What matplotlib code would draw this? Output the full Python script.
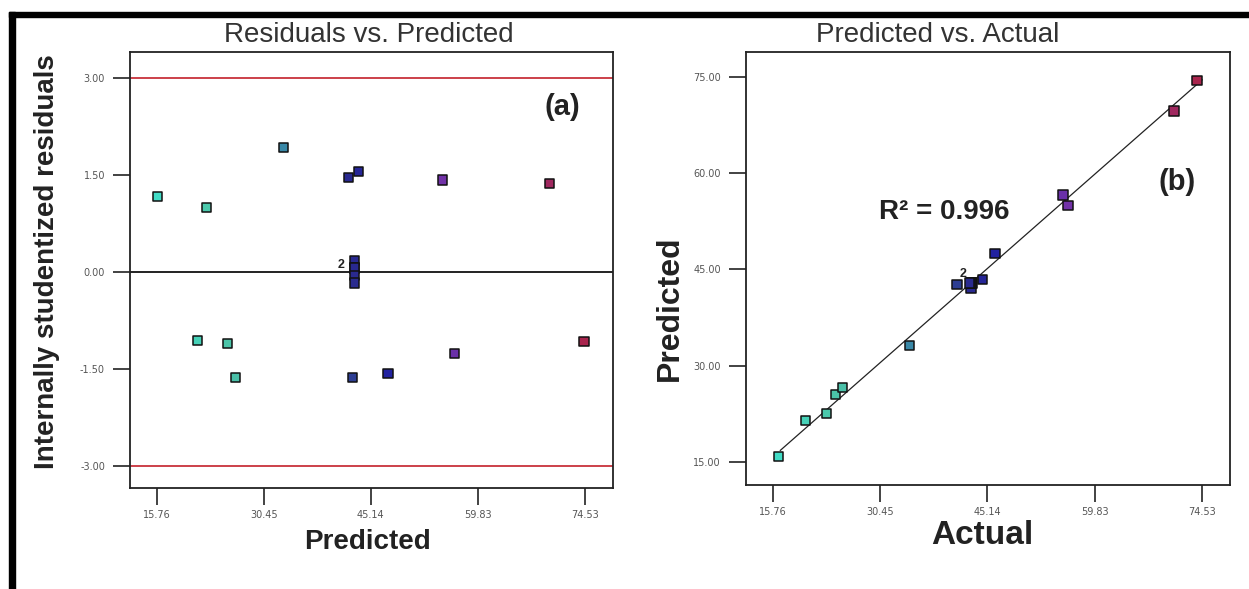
import matplotlib
matplotlib.use("Agg")
import matplotlib.pyplot as plt
from matplotlib.colors import LinearSegmentedColormap, Normalize
from matplotlib.patches import Rectangle

plt.rcParams['font.family'] = ['Liberation Sans', 'DejaVu Sans']

# model diagnostics, one entry per run
predicted = [15.9, 22.55, 33.2, 42.05, 43.4, 55.0, 69.7,
             42.9, 42.9, 42.9, 42.9, 42.9,
             21.4, 25.5, 26.55, 42.6, 47.5, 56.6, 74.4]
actual = [16.6, 23.1, 34.5, 42.9, 44.5, 56.2, 70.7,
          43.1, 42.95, 42.95, 42.8, 42.65,
          20.3, 24.4, 25.3, 41.0, 46.2, 55.5, 73.85]
residuals = [1.17, 1.00, 1.92, 1.46, 1.55, 1.42, 1.37,
             0.18, 0.06, 0.06, -0.06, -0.17,
             -1.06, -1.11, -1.63, -1.63, -1.57, -1.26, -1.08]
dup_run = 8          # run that sits on top of another one ("2")
r_squared = 0.996

x_ticks = [15.76, 30.45, 45.14, 59.83, 74.53]
resid_ticks = [-3.00, -1.50, 0.00, 1.50, 3.00]
pred_ticks = [15.00, 30.00, 45.00, 60.00, 75.00]
limit = 3.00

# colour scale low -> high response
cmap = LinearSegmentedColormap.from_list("resp", [
    (0.00, "#3fe0cc"), (0.15, "#4cc6a8"), (0.32, "#3a8ca8"),
    (0.46, "#2a2a8e"), (0.55, "#1e1ea8"), (0.70, "#7a34a8"),
    (1.00, "#ac2448")])
norm = Normalize(15, 75)
colors = [cmap(norm(v)) for v in actual]

W, H = 1249, 589
fig = plt.figure(figsize=(W / 100, H / 100), dpi=100)

# border strips
fig.patches.append(Rectangle((9 / W, 0), 6 / W, 1 - 12 / H, transform=fig.transFigure,
                             color="black", zorder=5))
fig.patches.append(Rectangle((9 / W, 1 - 17 / H), 1, 5 / H, transform=fig.transFigure,
                             color="black", zorder=5))

ax1 = fig.add_axes([130 / W, 1 - 488 / H, 483 / W, 436 / H])
ax2 = fig.add_axes([746 / W, 1 - 485 / H, 484 / W, 433 / H])


def style(ax, yticks):
    for s in ax.spines.values():
        s.set_color("#222222")
        s.set_linewidth(1.3)
    ax.set_xticks(x_ticks)
    ax.set_xticklabels(["%.2f" % t for t in x_ticks], family="DejaVu Sans")
    ax.set_yticks(yticks)
    ax.set_yticklabels(["%.2f" % t for t in yticks], family="DejaVu Sans")
    ax.tick_params(direction="out", length=12, width=1.2, color="#222222",
                   labelsize=7, labelcolor="#555555", pad=6)
    ax.tick_params(axis="x", pad=4)
    ax.set_xlim(12.1, 78.37)


# (a) residuals vs predicted
ax1.axhline(limit, color="#c8323c", lw=1.3, zorder=1)
ax1.axhline(-limit, color="#c8323c", lw=1.3, zorder=1)
ax1.axhline(0, color="#111111", lw=1.3, zorder=1)
ax1.scatter(predicted, residuals, marker="s", s=44, c=colors,
            edgecolors="#111111", linewidths=1.1, zorder=3)
ax1.annotate("2", (predicted[dup_run], residuals[dup_run]), xytext=(-13, 3),
             textcoords="offset pixels", fontsize=9, fontweight="bold",
             color="#222222", ha="center", va="center")
style(ax1, resid_ticks)
ax1.set_ylim(-3.34, 3.40)
ax1.text(0.896, 0.874, "(a)", transform=ax1.transAxes, fontsize=21,
         fontweight="bold", color="#222222", ha="center", va="center")
fig.text(369 / W, 1 - 35 / H, "Residuals vs. Predicted", fontsize=20,
         color="#333333", ha="center", va="center")
fig.text(47 / W, 1 - 262 / H, "Internally studentized residuals", fontsize=20,
         fontweight="bold", rotation=90, color="#222222", ha="center", va="center")
fig.text(368 / W, 1 - 542 / H, "Predicted", fontsize=20, fontweight="bold",
         color="#222222", ha="center", va="center")

# (b) predicted vs actual with the 1:1 line
ax2.plot([min(actual) + 0.2, max(actual) + 0.7], [min(actual) + 0.2, max(actual) + 0.7],
         color="#222222", lw=0.9, zorder=2)
ax2.scatter(actual, predicted, marker="s", s=44, c=colors,
            edgecolors="#111111", linewidths=1.1, zorder=3)
ax2.annotate("2", (actual[dup_run], predicted[dup_run]), xytext=(-8, 9),
             textcoords="offset pixels", fontsize=9, fontweight="bold",
             color="#222222", ha="center", va="center")
style(ax2, pred_ticks)
ax2.set_ylim(11.4, 78.9)
ax2.text(0.41, 0.63, "R² = %.3f" % r_squared, transform=ax2.transAxes,
         fontsize=20, fontweight="bold", color="#222222", ha="center", va="center")
ax2.text(0.89, 0.70, "(b)", transform=ax2.transAxes, fontsize=21,
         fontweight="bold", color="#222222", ha="center", va="center")
fig.text(938 / W, 1 - 35 / H, "Predicted vs. Actual", fontsize=20,
         color="#333333", ha="center", va="center")
fig.text(670 / W, 1 - 308 / H, "Predicted", fontsize=23, fontweight="bold",
         rotation=90, color="#222222", ha="center", va="center")
fig.text(982 / W, 1 - 536 / H, "Actual", fontsize=24, fontweight="bold",
         color="#222222", ha="center", va="center")

fig.savefig("out.png", dpi=100)
